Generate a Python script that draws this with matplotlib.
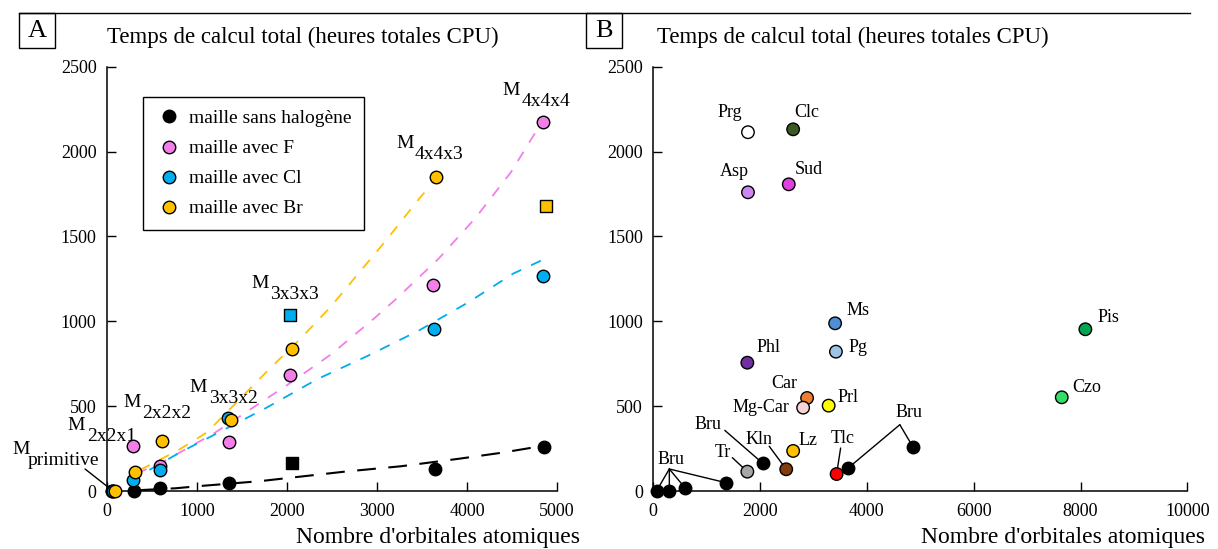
import numpy as np
import matplotlib
matplotlib.use("Agg")
import matplotlib.pyplot as plt
from matplotlib.lines import Line2D
from matplotlib.patches import Rectangle
from matplotlib.transforms import offset_copy

plt.rcParams["font.family"] = ["Liberation Serif", "DejaVu Serif"]

W, H = 1218, 549

# ---- panel A : cost vs number of atomic orbitals ----
noh_x = [60, 300, 590, 1360, 3644, 4860]
noh_y = [0, 0, 16, 49, 130, 261]
f_x = [60, 285, 589, 1359, 2033, 3626, 4848]
f_y = [0, 265, 149, 287, 682, 1216, 2173]
cl_x = [67, 285, 589, 1348, 3633, 4848]
cl_y = [0, 65, 124, 432, 953, 1269]
br_x = [90, 311, 614, 1374, 2059, 3656]
br_y = [0, 114, 296, 418, 835, 1849]
# square markers
noh_sq = ([2052], [167])
cl_sq = ([2033], [1035])
br_sq = ([4874], [1679])

# dashed trend lines
fit_noh_x = [360, 760, 1050, 1700, 2640, 3270, 3910, 4380, 4800]
fit_noh_y = [5, 16, 30, 58, 114, 146, 190, 225, 262]
fit_f_x = [330, 600, 1190, 1990, 2490, 2980, 3220, 3690, 4090, 4490, 4800]
fit_f_y = [104, 165, 340, 620, 805, 1022, 1135, 1372, 1606, 1880, 2147]
fit_cl_x = [263, 800, 1770, 2340, 2900, 3460, 4010, 4510, 4837]
fit_cl_y = [61, 224, 490, 660, 797, 944, 1110, 1280, 1361]
fit_br_x = [367, 790, 1110, 1810, 2145, 2480, 3090, 3480, 3580]
fit_br_y = [124, 240, 345, 722, 895, 1082, 1470, 1730, 1790]

# ---- panel B : minerals ----
min_names = ["Prg", "Clc", "Asp", "Sud", "Ms", "Pg", "Phl", "Car", "Mg-Car",
             "Prl", "Lz", "Kln", "Tr", "Tlc", "Pis", "Czo"]
min_x = [1773, 2619, 1773, 2537, 3405, 3420, 1761, 2880, 2806,
         3284, 2619, 2489, 1761, 3433, 8091, 7649]
min_y = [2114, 2131, 1760, 1807, 988, 821, 756, 548, 491,
         503, 236, 128, 114, 100, 953, 552]
min_colors = ["#ffffff", "#3a5a25", "#cc88ee", "#e040dd", "#4f8fd6", "#9dc3e8",
              "#7030a0", "#ed7d31", "#f4d4d4", "#ffff00", "#ffc000", "#843c0c",
              "#a6a6a6", "#ff0000", "#00a550", "#33dd66"]
bru_x = [60, 300, 600, 1360, 2050, 3644, 4860]
bru_y = [0, 0, 16, 49, 163, 134, 261]

# label offsets in pixels (dx, dy downwards) and alignment
lab_off = {"Prg": (-18, -20), "Clc": (14, -17), "Asp": (-14, -21), "Sud": (20, -15),
           "Ms": (23, -13), "Pg": (22, -4), "Phl": (21, -15), "Car": (-23, -14),
           "Mg-Car": (-14, 0), "Prl": (19, -8), "Lz": (15, -10), "Kln": (-27, -30),
           "Tr": (-24, -19), "Tlc": (6, -36), "Pis": (23, -12), "Czo": (25, -10)}
lead_off = {"Tr": (-15, -14), "Kln": (-17, -23), "Tlc": (4, -26)}

BLACK = "#000000"
PINK = "#f27fe9"
BLUE = "#00aeef"
GOLD = "#ffc000"
MS = 81

fig = plt.figure(figsize=(W / 100, H / 100), dpi=100)


def fx(p):
    return p / W


def fy(p):
    return 1 - p / H


def style_axes(ax):
    for s in ["top", "right"]:
        ax.spines[s].set_visible(False)
    for s in ["left", "bottom"]:
        ax.spines[s].set_linewidth(1.1)
    ax.tick_params(direction="in", length=6.7, width=1.0, labelsize=13)
    ax.tick_params(axis="y", pad=7.5)
    ax.tick_params(axis="x", pad=9)
    ax.set_ylim(0, 2500)
    ax.set_yticks(np.arange(0, 2501, 500))


axA = fig.add_axes([fx(107), fy(491), 450 / W, 424.3 / H])
axB = fig.add_axes([fx(653.3), fy(491), 534 / W, 424.3 / H])
style_axes(axA)
style_axes(axB)
axA.set_xlim(0, 5000)
axA.set_xticks(np.arange(0, 5001, 1000))
axB.set_xlim(0, 10000)
axB.set_xticks(np.arange(0, 10001, 2000))

# trend lines
axA.plot(fit_noh_x, fit_noh_y, color=BLACK, lw=1.5, ls=(0, (9, 6)), zorder=1)
axA.plot(fit_f_x, fit_f_y, color=PINK, lw=1.3, ls=(0, (6, 6)), zorder=1)
axA.plot(fit_cl_x, fit_cl_y, color=BLUE, lw=1.3, ls=(0, (6, 6)), zorder=1)
axA.plot(fit_br_x, fit_br_y, color=GOLD, lw=1.3, ls=(0, (6, 6)), zorder=1)

sc = dict(s=MS, edgecolors="black", linewidths=1.0, clip_on=False, zorder=3)
axA.scatter(f_x, f_y, color=PINK, **sc)
axA.scatter(noh_x, noh_y, color=BLACK, **sc)
axA.scatter(cl_x, cl_y, color=BLUE, **sc)
axA.scatter(br_x, br_y, color=GOLD, **sc)
sq = dict(s=72, marker="s", edgecolors="black", linewidths=1.0, clip_on=False, zorder=3)
axA.scatter(*noh_sq, color=BLACK, **sq)
axA.scatter(*cl_sq, color=BLUE, **sq)
axA.scatter(*br_sq, color=GOLD, **sq)

# legend
handles = [Line2D([], [], ls="none", marker="o", markersize=9, markerfacecolor=c,
                  markeredgecolor="black", markeredgewidth=1.0)
           for c in [BLACK, PINK, BLUE, GOLD]]
leg = axA.legend(handles, ["maille sans halogène", "maille avec F",
                           "maille avec Cl", "maille avec Br"],
                 loc="upper left", bbox_to_anchor=(fx(143), fy(97)),
                 bbox_transform=fig.transFigure, borderaxespad=0,
                 fontsize=14, frameon=True, fancybox=False, edgecolor="black",
                 framealpha=1, borderpad=0.65, labelspacing=0.64,
                 handlelength=1.4, handletextpad=0.3)
leg.get_frame().set_linewidth(1.0)


# M labels: (anchor x, anchor y, subscript, dx, dy) in pixels
def mlabel(ax, x, y, sub, dx, dy, subdx=19):
    ax.annotate("M", xy=(x, y), xytext=(dx, -dy), textcoords="offset pixels",
                fontsize=14, ha="left", va="baseline")
    ax.annotate(sub, xy=(x, y), xytext=(dx + subdx, -dy - 11), textcoords="offset pixels",
                fontsize=14, ha="left", va="baseline")


mlabel(axA, cl_x[1], cl_y[1], "2x2x1", -65, -50)
mlabel(axA, br_x[2], br_y[2], "2x2x2", -39, -34)
mlabel(axA, br_x[3], br_y[3], "3x3x2", -41, -28)
mlabel(axA, cl_sq[0][0], cl_sq[1][0], "3x3x3", -39, -27)
mlabel(axA, br_x[5], br_y[5], "4x4x3", -40, -29)
mlabel(axA, f_x[6], f_y[6], "4x4x4", -41, -27)
mlabel(axA, cl_x[0], cl_y[0], "primitive", -101, -37, subdx=16)
axA.annotate("", xy=(cl_x[0], cl_y[0]), xytext=(-28, 22), textcoords="offset pixels",
             arrowprops=dict(arrowstyle="-", shrinkA=0, shrinkB=0, lw=1.0, color="black"),
             zorder=2)

# panel B points
axB.scatter(min_x, min_y, color=min_colors, **sc)
axB.scatter(bru_x, bru_y, color=BLACK, **sc)

for name, x, y in zip(min_names, min_x, min_y):
    dx, dy = lab_off[name]
    ha = "right" if name == "Mg-Car" else "center"
    axB.annotate(name, xy=(x, y), xytext=(dx, -dy), textcoords="offset pixels",
                 fontsize=13, ha=ha, va="center")
    if name in lead_off:
        lx, ly = lead_off[name]
        axB.annotate("", xy=(x, y), xytext=(lx, -ly), textcoords="offset pixels",
                     arrowprops=dict(arrowstyle="-", shrinkA=0, shrinkB=0, lw=1.0,
                                     color="black"), zorder=2)

lp = dict(arrowstyle="-", shrinkA=0, shrinkB=0, lw=1.0, color="black")
# Bru group left (vertex relative to Bru 300)
vL = offset_copy(axB.transData, fig=fig, x=0, y=22, units="dots")
for i in [0, 1, 2, 3]:
    axB.annotate("", xy=(bru_x[i], bru_y[i]), xytext=(bru_x[1], bru_y[1]),
                 textcoords=vL, arrowprops=lp, zorder=2)
axB.annotate("Bru", xy=(bru_x[1], bru_y[1]), xytext=(2, 31), textcoords="offset pixels",
             fontsize=13, ha="center", va="center")
# Bru 2050
axB.annotate("", xy=(bru_x[4], bru_y[4]), xytext=(-38, 33), textcoords="offset pixels",
             arrowprops=lp, zorder=2)
axB.annotate("Bru", xy=(bru_x[4], bru_y[4]), xytext=(-55, 39), textcoords="offset pixels",
             fontsize=13, ha="center", va="center")
# Bru group right (vertex relative to Bru 4860)
vR = offset_copy(axB.transData, fig=fig, x=-13, y=22, units="dots")
for i in [5, 6]:
    axB.annotate("", xy=(bru_x[i], bru_y[i]), xytext=(bru_x[6], bru_y[6]),
                 textcoords=vR, arrowprops=lp, zorder=2)
axB.annotate("Bru", xy=(bru_x[6], bru_y[6]), xytext=(-4, 34), textcoords="offset pixels",
             fontsize=13, ha="center", va="center")

# titles, axis labels, panel letters
for xl, letter, x0, x1 in [(107, "A", 19, 55), (657, "B", 585.7, 622.3)]:
    fig.text(fx(xl), fy(37), "Temps de calcul total (heures totales CPU)",
             fontsize=16.5, ha="left", va="center")
    fig.add_artist(Rectangle((fx(x0), fy(48)), (x1 - x0) / W, 35 / H,
                             transform=fig.transFigure, fill=False, lw=1.0,
                             edgecolor="black"))
    fig.text(fx((x0 + x1) / 2), fy(31), letter, fontsize=19, ha="center", va="center")
fig.text(fx(580), fy(537), "Nombre d'orbitales atomiques", fontsize=17,
         ha="right", va="center")
fig.text(fx(1205), fy(537), "Nombre d'orbitales atomiques", fontsize=17,
         ha="right", va="center")
fig.add_artist(Line2D([fx(19), fx(1190)], [fy(13), fy(13)], transform=fig.transFigure,
                      color="black", lw=1.0))

fig.savefig("out.png", dpi=100)
